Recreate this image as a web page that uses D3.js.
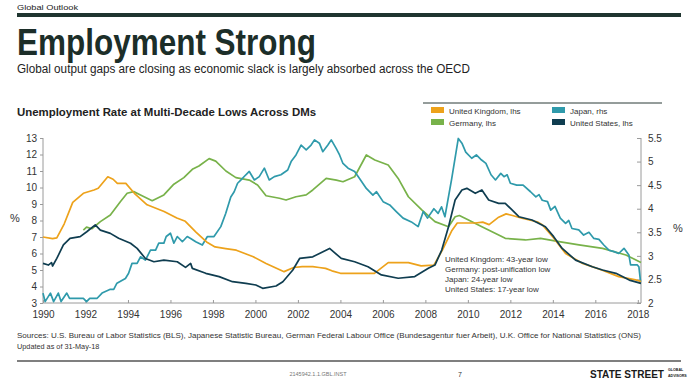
<!DOCTYPE html>
<html><head><meta charset="utf-8">
<script src="https://cdn.jsdelivr.net/npm/d3@7"></script>
<style>
body{margin:0;background:#fff;}
svg{display:block;font-family:"Liberation Sans",Arial,sans-serif;}
</style></head>
<body><svg id="c" width="688" height="380"></svg>
<script>
// ---------- DATA ----------
const xTicks = [1990,1992,1994,1996,1998,2000,2002,2004,2006,2008,2010,2012,2014,2016,2018];
const leftTicks = [3,4,5,6,7,8,9,10,11,12,13];
const rightTicks = [2,2.5,3,3.5,4,4.5,5,5.5];

const ukYears = [1990.0,1990.45,1990.65,1991.0,1991.4,1991.9,1992.4,1992.6,1993.05,1993.3,1993.5,1993.9,1994.3,1994.9,1995.7,1996.3,1996.7,1997.2,1997.7,1998.1,1998.6,1999.1,1999.5,1999.9,2000.5,2001.35,2001.8,2002.2,2002.7,2003.0,2003.3,2003.6,2004.0,2005.6,2006.25,2007.2,2007.8,2008.4,2008.8,2009.25,2009.5,2010.35,2010.7,2011.0,2011.45,2011.8,2012.1,2012.5,2013.0,2013.3,2013.5,2014.0,2014.6,2015.4,2016.3,2017.1,2017.9,2018.15];
const ukVals  = [7.0,6.9,6.95,7.8,9.1,9.65,9.85,9.95,10.65,10.5,10.25,10.25,9.65,8.95,8.55,8.15,7.95,7.3,6.7,6.4,6.3,6.2,6.0,5.8,5.4,4.9,5.15,5.2,5.2,5.15,5.1,4.95,4.8,4.8,5.45,5.45,5.25,5.3,6.2,7.4,7.85,7.85,7.9,7.75,8.2,8.4,8.3,8.15,8.0,7.9,7.75,7.0,6.0,5.4,5.0,4.6,4.4,4.3];

const deYears = [1991.9,1992.05,1992.3,1992.7,1993.17,1993.64,1993.96,1994.27,1994.59,1995.14,1995.69,1996.16,1996.63,1997.03,1997.34,1997.82,1998.13,1998.61,1999.08,1999.71,2000.1,2000.5,2001.13,2001.44,2001.91,2002.39,2002.7,2003.33,2003.81,2004.12,2004.67,2005.22,2005.62,2006.25,2006.72,2007.2,2007.83,2008.45,2009.09,2009.4,2009.6,2010.03,2010.66,2011.45,2011.76,2012.71,2013.42,2014.29,2015.23,2016.34,2017.44,2018.15];
const deVals  = [7.42,7.6,7.5,7.93,8.33,9.14,9.65,9.75,9.55,9.2,9.55,10.2,10.6,11.1,11.3,11.75,11.6,11.0,10.6,10.45,10.15,9.5,9.35,9.24,9.44,9.55,9.85,10.55,10.45,10.35,10.65,11.97,11.67,11.36,10.55,9.44,8.64,7.93,7.62,8.23,8.3,8.03,7.62,7.12,6.92,6.82,6.92,6.72,6.52,6.31,5.91,5.45];

const usYears = [1990.0,1990.25,1990.4,1990.45,1990.65,1990.96,1991.27,1991.75,1992.06,1992.46,1992.7,1993.17,1993.56,1994.12,1994.43,1994.82,1995.22,1995.69,1996.32,1996.71,1996.95,1997.03,1997.66,1998.29,1998.92,1999.55,2000.02,2000.34,2000.97,2001.29,2001.76,2002.08,2002.7,2003.49,2004.04,2004.67,2005.3,2005.93,2006.72,2007.5,2008.14,2008.45,2008.77,2009.09,2009.4,2009.72,2009.95,2010.35,2010.66,2010.98,2011.45,2011.76,2012.08,2012.4,2013.02,2013.65,2014.04,2014.44,2015.07,2015.86,2016.34,2016.97,2017.6,2018.15];
const usVals  = [5.4,5.3,5.45,5.24,5.7,6.52,6.92,7.02,7.32,7.73,7.42,7.22,6.92,6.62,6.31,5.7,5.5,5.6,5.5,5.16,5.4,5.1,4.8,4.6,4.29,4.19,4.09,3.89,4.03,4.29,5.0,5.7,5.8,6.31,5.7,5.5,5.2,4.7,4.5,4.6,5.1,5.3,6.21,7.62,9.24,9.85,9.95,9.65,9.85,9.24,9.04,9.04,8.64,8.23,8.03,7.62,7.02,6.31,5.6,5.2,5.0,4.8,4.39,4.19];

const jpYears = [1990.0,1990.1,1990.35,1990.5,1990.72,1990.85,1991.12,1991.25,1991.9,1992.05,1992.2,1992.55,1992.78,1993.17,1993.33,1993.48,1993.88,1994.03,1994.19,1994.43,1994.59,1994.82,1995.06,1995.3,1995.45,1995.69,1995.8,1996.0,1996.16,1996.32,1996.56,1996.79,1996.95,1997.19,1997.5,1997.74,1998.05,1998.37,1998.6,1998.84,1999.0,1999.16,1999.32,1999.55,1999.71,1999.95,2000.18,2000.42,2000.65,2000.89,2001.2,2001.52,2001.68,2001.91,2002.15,2002.39,2002.62,2002.78,2003.01,2003.17,2003.41,2003.57,2003.8,2003.96,2004.12,2004.36,2004.67,2004.9,2005.22,2005.53,2005.7,2006.01,2006.32,2006.63,2006.95,2007.34,2007.66,2007.9,2008.1,2008.4,2008.6,2008.76,2008.92,2009.24,2009.55,2009.72,2009.9,2010.18,2010.4,2010.6,2010.85,2011.09,2011.3,2011.55,2011.7,2011.85,2012.0,2012.3,2012.6,2012.95,2013.2,2013.35,2013.5,2013.75,2013.9,2014.1,2014.35,2014.6,2014.75,2014.9,2015.22,2015.45,2015.7,2015.93,2016.17,2016.4,2016.64,2016.88,2017.1,2017.35,2017.58,2017.66,2017.97,2018.05,2018.13,2018.15];
const jpVals  = [2.21,2.03,2.21,2.03,2.21,2.03,2.21,2.1,2.1,2.03,2.1,2.1,2.21,2.29,2.29,2.42,2.52,2.63,2.84,2.84,2.98,2.91,3.12,3.12,3.27,3.27,3.41,3.48,3.27,3.41,3.3,3.41,3.37,3.3,3.23,3.41,3.41,3.62,3.9,4.25,4.36,4.54,4.61,4.72,4.79,4.61,4.68,4.86,4.61,4.68,4.72,4.82,5.0,5.14,5.35,5.25,5.35,5.46,5.39,5.21,5.35,5.46,5.28,5.14,4.96,4.86,4.79,4.64,4.43,4.29,4.36,4.15,4.08,3.94,3.8,3.72,3.62,3.94,3.8,4.0,3.9,4.04,3.83,4.64,5.49,5.39,5.2,5.07,5.14,5.05,4.96,4.72,4.61,4.75,4.68,4.72,4.54,4.5,4.5,4.36,4.25,4.3,4.18,4.15,3.97,4.05,3.8,3.69,3.75,3.58,3.55,3.44,3.5,3.37,3.35,3.23,3.12,3.09,3.05,3.16,3.02,2.81,2.81,2.77,2.45,2.45];

const seriesNames = ["United Kingdom, lhs","Germany, lhs","Japan, rhs","United States, lhs"];
const seriesColors = ["#EDA21B","#78B24A","#2F9AAB","#0F3D50"];
const notes = ["United Kingdom: 43-year low","Germany: post-unification low","Japan: 24-year low","United States: 17-year low"];

// ---------- DRAW ----------
const svg = d3.select("#c");
const x = d3.scaleLinear().domain([1990, 2018.15]).range([43, 641]);
const yL = d3.scaleLinear().domain([3, 13]).range([303, 138]);
const yR = d3.scaleLinear().domain([2, 5.5]).range([303, 138]);

// header
svg.append("text").attr("x",17).attr("y",10).attr("font-size",8).attr("fill","#222")
  .attr("textLength",61).attr("lengthAdjust","spacingAndGlyphs").text("Global Outlook");
svg.append("rect").attr("x",17).attr("y",13).attr("width",664).attr("height",4).attr("fill","#1F3530");
svg.append("text").attr("x",17).attr("y",55).attr("font-size",37).attr("font-weight","bold").attr("fill","#1C2E29")
  .attr("textLength",299).attr("lengthAdjust","spacingAndGlyphs").text("Employment Strong");
svg.append("text").attr("x",17).attr("y",73).attr("font-size",12.5).attr("fill","#222")
  .attr("textLength",453).attr("lengthAdjust","spacingAndGlyphs")
  .text("Global output gaps are closing as economic slack is largely absorbed across the OECD");
svg.append("text").attr("x",17).attr("y",116).attr("font-size",11.5).attr("font-weight","bold").attr("fill","#222")
  .attr("textLength",299).attr("lengthAdjust","spacingAndGlyphs")
  .text("Unemployment Rate at Multi-Decade Lows Across DMs");

// legend
svg.append("line").attr("x1",423).attr("x2",662).attr("y1",103).attr("y2",103).attr("stroke","#2B3A36").attr("stroke-width",1);
const legPos = [[431,107],[431,119],[552,107],[552,119]];
seriesNames.forEach((n,i)=>{
  svg.append("rect").attr("x",legPos[i][0]).attr("y",legPos[i][1]).attr("width",13).attr("height",6).attr("fill",seriesColors[i]);
  svg.append("text").attr("x",legPos[i][0]+18).attr("y",legPos[i][1]+6.5).attr("font-size",8).attr("fill","#333").text(n);
});

// axes
const axL = svg.append("g").attr("transform","translate(43,0)")
  .call(d3.axisLeft(yL).tickValues(leftTicks).tickSize(3).tickPadding(3).tickFormat(d3.format("d")));
const axR = svg.append("g").attr("transform","translate(641,0)")
  .call(d3.axisRight(yR).tickValues(rightTicks).tickSize(-4).tickPadding(7).tickFormat(d=>String(d)));
const axB = svg.append("g").attr("transform","translate(0,303)")
  .call(d3.axisBottom(x).tickValues(xTicks).tickSize(-3).tickPadding(8).tickFormat(d3.format("d")));
[axL,axR,axB].forEach(g=>{
  g.selectAll("path.domain").attr("stroke","#9a9a9a");
  g.selectAll(".tick line").attr("stroke","#9a9a9a");
  g.selectAll("text").attr("font-size",10).attr("fill","#333").attr("font-family","Liberation Sans, Arial, sans-serif");
});
axL.select("path.domain").attr("d","M0,138V303");
axR.select("path.domain").attr("d","M0,138V303");
axB.select("path.domain").attr("d","M43,0H641");

svg.append("text").attr("x",15).attr("y",222).attr("font-size",11).attr("text-anchor","middle").attr("fill","#333").text("%");
svg.append("text").attr("x",678).attr("y",232).attr("font-size",11).attr("text-anchor","middle").attr("fill","#333").text("%");

// lines
const mk = (ys, vs) => ys.map((y,i)=>({x:y, v:vs[i]}));
const lineL = d3.line().x(d=>x(d.x)).y(d=>yL(d.v));
const lineR = d3.line().x(d=>x(d.x)).y(d=>yR(d.v));
const draw = (data, gen, col) => svg.append("path").datum(data).attr("d",gen)
  .attr("fill","none").attr("stroke",col).attr("stroke-width",1.7).attr("stroke-linejoin","round");
draw(mk(deYears,deVals), lineL, seriesColors[1]);
draw(mk(jpYears,jpVals), lineR, seriesColors[2]);
draw(mk(ukYears,ukVals), lineL, seriesColors[0]);
draw(mk(usYears,usVals), lineL, seriesColors[3]);

// annotation
notes.forEach((t,i)=>{
  svg.append("text").attr("x",445).attr("y",262+i*10).attr("font-size",8).attr("fill","#333").text(t);
});

// footer
svg.append("text").attr("x",17).attr("y",338).attr("font-size",7.3).attr("fill","#333")
  .attr("textLength",624).attr("lengthAdjust","spacingAndGlyphs")
  .text("Sources: U.S. Bureau of Labor Statistics (BLS), Japanese Statistic Bureau, German Federal Labour Office (Bundesagentur fuer Arbeit), U.K. Office for National Statistics (ONS)");
svg.append("text").attr("x",17).attr("y",349).attr("font-size",7.3).attr("fill","#333").text("Updated as of 31-May-18");
svg.append("line").attr("x1",17).attr("x2",681).attr("y1",361).attr("y2",361).attr("stroke","#555").attr("stroke-width",1.5);
svg.append("text").attr("x",318).attr("y",376).attr("font-size",5.5).attr("text-anchor","middle").attr("fill","#777").text("2145942.1.1.GBL.INST");
svg.append("text").attr("x",460).attr("y",377).attr("font-size",7).attr("text-anchor","middle").attr("fill","#333").text("7");
svg.append("text").attr("x",590).attr("y",378).attr("font-size",10).attr("font-weight","bold").attr("fill","#1a1a1a")
  .attr("textLength",74).attr("lengthAdjust","spacingAndGlyphs").text("STATE STREET");
svg.append("text").attr("x",668).attr("y",371).attr("font-size",3.6).attr("font-weight","bold").attr("fill","#1a1a1a").text("GLOBAL");
svg.append("text").attr("x",668).attr("y",377).attr("font-size",3.6).attr("font-weight","bold").attr("fill","#1a1a1a").text("ADVISORS");
</script></body></html>
